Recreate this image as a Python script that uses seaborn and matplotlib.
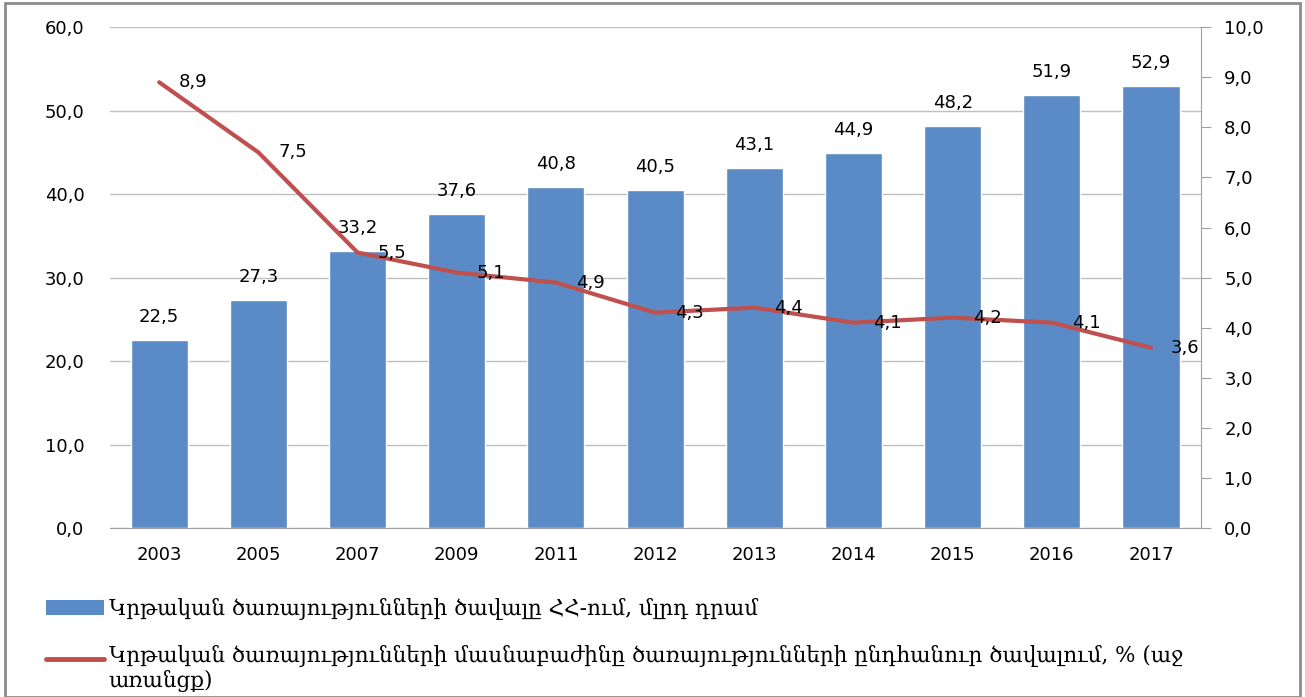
import matplotlib
matplotlib.use('Agg')
import matplotlib.pyplot as plt
import numpy as np
import pandas as pd
import seaborn as sns
from matplotlib.lines import Line2D
from matplotlib.patches import Patch, Rectangle
from matplotlib.legend_handler import HandlerLine2D

years = ['2003', '2005', '2007', '2009', '2011', '2012', '2013', '2014', '2015', '2016', '2017']
volume = [22.5, 27.3, 33.2, 37.6, 40.8, 40.5, 43.1, 44.9, 48.2, 51.9, 52.9]
share = [8.9, 7.5, 5.5, 5.1, 4.9, 4.3, 4.4, 4.1, 4.2, 4.1, 3.6]

bar_label = 'Կրթական ծառայությունների ծավալը ՀՀ-ում, մլրդ դրամ'
line_label = ('Կրթական ծառայությունների մասնաբաժինը ծառայությունների ընդհանուր ծավալում, % (աջ\n'
              'առանցք)')

bar_color = '#5B8BC6'
line_color = '#C0504D'

def fmt(v):
    return f'{v:.1f}'.replace('.', ',')


class TopLineHandler(HandlerLine2D):
    # put the line handle next to the first text line of a wrapped label
    def create_artists(self, legend, orig_handle, xdescent, ydescent, width,
                       height, fontsize, trans):
        return super().create_artists(legend, orig_handle, xdescent,
                                      ydescent - 1.0 * fontsize, width, height,
                                      fontsize, trans)


sns.set_style('white')
plt.rcParams['font.family'] = ['DejaVu Sans']
plt.rcParams['text.color'] = 'black'
plt.rcParams['xtick.color'] = 'black'
plt.rcParams['ytick.color'] = 'black'

df = pd.DataFrame({'year': years, 'volume': volume, 'share': share})
df['pos'] = np.arange(len(df))

fig = plt.figure(figsize=(13.05, 6.97), dpi=100)
ax = fig.add_axes([0.084, 0.2425, 0.836, 0.7185])

sns.barplot(data=df, x='year', y='volume', color=bar_color, width=0.575,
            saturation=1, ax=ax, zorder=2)
ax.set_ylim(0, 60)
ax.set_yticks(np.arange(0, 61, 10))
ax.set_yticklabels([fmt(v) for v in np.arange(0, 61, 10)], fontsize=13)
ax.tick_params(axis='x', labelsize=13, length=0, pad=13)
ax.tick_params(axis='y', length=0, pad=18)
ax.set_xlim(-0.5, len(years) - 0.5)
ax.set_xlabel('')
ax.set_ylabel('')
ax.grid(axis='y', color='#BFBFBF', linewidth=1, zorder=0)
ax.set_axisbelow(True)
for s in ['top', 'left', 'right']:
    ax.spines[s].set_visible(False)
ax.spines['bottom'].set_color('#A0A0A0')

for p, v in zip(ax.patches, volume):
    ax.annotate(fmt(v), (p.get_x() + p.get_width() / 2, p.get_height()),
                xytext=(0, 14), textcoords='offset pixels', ha='center',
                va='bottom', fontsize=13)

ax2 = ax.twinx()
sns.lineplot(data=df, x='pos', y='share', color=line_color, linewidth=3,
             ax=ax2, zorder=3)
ax2.set_ylim(0, 10)
ax2.set_xlim(-0.5, len(years) - 0.5)
ax2.set_yticks(np.arange(0, 11, 1))
ax2.set_yticklabels([fmt(v) for v in np.arange(0, 11, 1)], fontsize=13)
ax2.tick_params(axis='y', direction='out', length=7, color='#A0A0A0', pad=10)
ax2.set_ylabel('')
ax2.set_xlabel('')
for s in ['top', 'left', 'bottom']:
    ax2.spines[s].set_visible(False)
ax2.spines['right'].set_color('#A0A0A0')

for i, v in enumerate(share):
    ax2.annotate(fmt(v), (i, v), xytext=(20, 0), textcoords='offset pixels',
                 ha='left', va='center', fontsize=13)

line_handle = Line2D([0], [0], color=line_color, linewidth=3.5)
handles = [Patch(facecolor=bar_color, edgecolor='none'), line_handle]
fig.legend(handles, [bar_label, line_label], loc='upper left',
           bbox_to_anchor=(0.0205, 0.17), frameon=False,
           prop={'family': ['DejaVu Serif', 'DejaVu Sans'], 'size': 15.5},
           handlelength=2.7, handletextpad=0.2, labelspacing=1.15,
           handler_map={line_handle: TopLineHandler()})

fig.patches.append(Rectangle((0.004, 0.0), 0.992, 0.995, transform=fig.transFigure,
                             fill=False, edgecolor='#8C8C8C', linewidth=2))

fig.savefig('out.png', dpi=100)
